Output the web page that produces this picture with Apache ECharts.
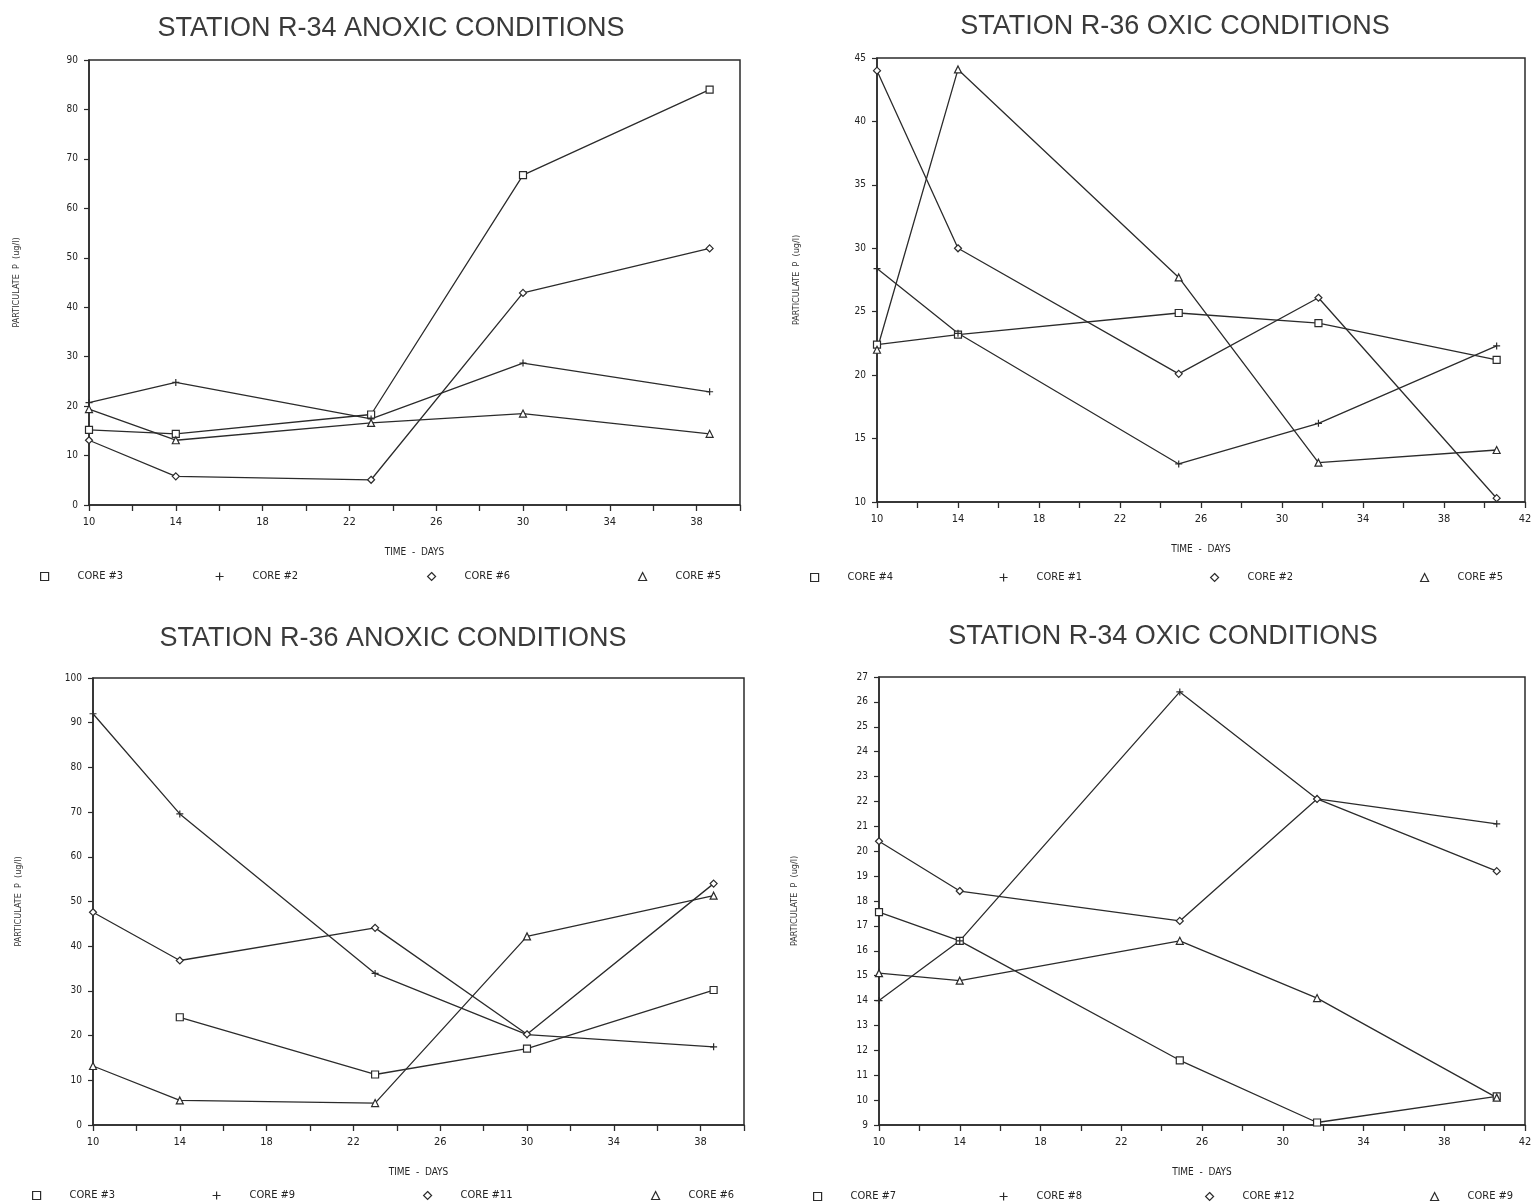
<!DOCTYPE html>
<html>
<head>
<meta charset="utf-8">
<script src="https://cdn.jsdelivr.net/npm/echarts@6/dist/echarts.min.js"></script>
<style>
html, body { margin: 0; padding: 0; background: #fff; }
#main { width: 1536px; height: 1202px; }
</style>
</head>
<body>
<div id="main"></div>
<script>
// STATION R-34 ANOXIC CONDITIONS
var r34AnoxDays = [10, 14, 23, 30, 38.6];
var r34AnoxCore3 = [15.2, 14.4, 18.3, 66.7, 84];
var r34AnoxCore2 = [20.7, 24.8, 17.4, 28.7, 22.9];
var r34AnoxCore6 = [13.1, 5.8, 5.1, 42.9, 51.9];
var r34AnoxCore5 = [19.4, 13.1, 16.6, 18.5, 14.4];

// STATION R-36 OXIC CONDITIONS
var r36OxDays = [10, 14, 24.9, 31.8, 40.6];
var r36OxCore4 = [22.4, 23.2, 24.9, 24.1, 21.2];
var r36OxCore1 = [28.4, 23.3, 13.0, 16.2, 22.3];
var r36OxCore2 = [44.0, 30.0, 20.1, 26.1, 10.3];
var r36OxCore5 = [22.0, 44.1, 27.7, 13.1, 14.1];

// STATION R-36 ANOXIC CONDITIONS (core #3 has no day-10 sample)
var r36AnoxDays = [10, 14, 23, 30, 38.6];
var r36AnoxCore3 = [null, 24.1, 11.3, 17.1, 30.2];
var r36AnoxCore9 = [92, 69.6, 33.9, 20.2, 17.5];
var r36AnoxCore11 = [47.6, 36.8, 44.1, 20.3, 54];
var r36AnoxCore6 = [13.2, 5.5, 4.9, 42.2, 51.3];

// STATION R-34 OXIC CONDITIONS
var r34OxDays = [10, 14, 24.9, 31.7, 40.6];
var r34OxCore7 = [17.55, 16.4, 11.6, 9.1, 10.15];
var r34OxCore8 = [14.0, 16.4, 26.4, 22.1, 21.1];
var r34OxCore12 = [20.4, 18.4, 17.2, 22.1, 19.2];
var r34OxCore9 = [15.1, 14.8, 16.4, 14.1, 10.1];

// x axis ticks / labels
var dayLabels40 = [10, 14, 18, 22, 26, 30, 34, 38];
var dayTicks40 = [10, 12, 14, 16, 18, 20, 22, 24, 26, 28, 30, 32, 34, 36, 38, 40];
var dayLabels42 = [10, 14, 18, 22, 26, 30, 34, 38, 42];
var dayTicks42 = [10, 12, 14, 16, 18, 20, 22, 24, 26, 28, 30, 32, 34, 36, 38, 40, 42];

var SQUARE = 'rect';
var PLUS = 'path://M5,0V10M0,5H10';
var DIAMOND = 'diamond';
var TRIANGLE = 'triangle';

var INK = '#2b2b2b';
var SMALL_FONT = "'Liberation Sans Narrow', 'DejaVu Sans Condensed', 'Liberation Sans', sans-serif";

var panels = [
    {
        title: 'STATION R-34 ANOXIC CONDITIONS',
        titleX: 386, titleY: 10,
        grid: { left: 89, top: 60, width: 651, height: 445 },
        yMin: 0, yMax: 90, yStep: 10, xMax: 40, yNameGap: 68,
        labels: dayLabels40, ticks: dayTicks40,
        days: r34AnoxDays,
        lines: [
            { name: 'CORE #3', values: r34AnoxCore3, symbol: SQUARE },
            { name: 'CORE #2', values: r34AnoxCore2, symbol: PLUS },
            { name: 'CORE #6', values: r34AnoxCore6, symbol: DIAMOND },
            { name: 'CORE #5', values: r34AnoxCore5, symbol: TRIANGLE }
        ],
        legendX: [39, 214, 426, 637], legendY: 566
    },
    {
        title: 'STATION R-36 OXIC CONDITIONS',
        titleX: 1170, titleY: 8,
        grid: { left: 877, top: 58, width: 648, height: 444 },
        yMin: 10, yMax: 45, yStep: 5, xMax: 42, yNameGap: 76,
        labels: dayLabels42, ticks: dayTicks42,
        days: r36OxDays,
        lines: [
            { name: 'CORE #4', values: r36OxCore4, symbol: SQUARE },
            { name: 'CORE #1', values: r36OxCore1, symbol: PLUS },
            { name: 'CORE #2', values: r36OxCore2, symbol: DIAMOND },
            { name: 'CORE #5', values: r36OxCore5, symbol: TRIANGLE }
        ],
        legendX: [809, 998, 1209, 1419], legendY: 567
    },
    {
        title: 'STATION R-36 ANOXIC CONDITIONS',
        titleX: 388, titleY: 620,
        grid: { left: 93, top: 678, width: 651, height: 447 },
        yMin: 0, yMax: 100, yStep: 10, xMax: 40, yNameGap: 70,
        labels: dayLabels40, ticks: dayTicks40,
        days: r36AnoxDays,
        lines: [
            { name: 'CORE #3', values: r36AnoxCore3, symbol: SQUARE },
            { name: 'CORE #9', values: r36AnoxCore9, symbol: PLUS },
            { name: 'CORE #11', values: r36AnoxCore11, symbol: DIAMOND },
            { name: 'CORE #6', values: r36AnoxCore6, symbol: TRIANGLE }
        ],
        legendX: [31, 211, 422, 650], legendY: 1185
    },
    {
        title: 'STATION R-34 OXIC CONDITIONS',
        titleX: 1158, titleY: 618,
        grid: { left: 879, top: 677, width: 646, height: 448 },
        yMin: 9, yMax: 27, yStep: 1, xMax: 42, yNameGap: 80,
        labels: dayLabels42, ticks: dayTicks42,
        days: r34OxDays,
        lines: [
            { name: 'CORE #7', values: r34OxCore7, symbol: SQUARE },
            { name: 'CORE #8', values: r34OxCore8, symbol: PLUS },
            { name: 'CORE #12', values: r34OxCore12, symbol: DIAMOND },
            { name: 'CORE #9', values: r34OxCore9, symbol: TRIANGLE }
        ],
        legendX: [812, 998, 1204, 1429], legendY: 1186
    }
];

var chart = echarts.init(document.getElementById('main'));

var titles = [], grids = [], xAxes = [], yAxes = [], series = [], legends = [];

panels.forEach(function (p, i) {
    titles.push({
        text: p.title,
        left: p.titleX,
        top: p.titleY,
        textAlign: 'center',
        textStyle: {
            fontFamily: "'Liberation Sans', Arial, sans-serif",
            fontSize: 27,
            fontWeight: 'normal',
            color: '#3a3a3a'
        }
    });
    grids.push({
        left: p.grid.left, top: p.grid.top,
        width: p.grid.width, height: p.grid.height,
        show: true, borderColor: INK, borderWidth: 1.5,
        backgroundColor: 'transparent'
    });
    xAxes.push({
        type: 'value',
        gridIndex: i,
        min: 10,
        max: p.xMax,
        name: 'TIME  -  DAYS',
        nameLocation: 'middle',
        nameGap: 42,
        nameTextStyle: { fontFamily: SMALL_FONT, fontSize: 10, color: '#222' },
        axisLine: { onZero: false, lineStyle: { color: INK, width: 1.5 } },
        axisTick: { show: true, customValues: p.ticks, length: 6, lineStyle: { color: INK, width: 1.3 } },
        axisLabel: { customValues: p.labels, margin: 12, fontFamily: SMALL_FONT, fontSize: 11, color: '#222' },
        splitLine: { show: false }
    });
    yAxes.push({
        type: 'value',
        gridIndex: i,
        min: p.yMin,
        max: p.yMax,
        interval: p.yStep,
        name: 'PARTICULATE  P  (ug/l)',
        nameLocation: 'middle',
        nameRotate: 90,
        nameGap: p.yNameGap,
        nameTextStyle: { fontFamily: SMALL_FONT, fontSize: 9, color: '#333' },
        axisLine: { show: true, lineStyle: { color: INK, width: 1.5 } },
        axisTick: { show: true, length: 5, lineStyle: { color: INK, width: 1.2 } },
        axisLabel: { margin: 11, fontFamily: SMALL_FONT, fontSize: 10, color: '#222' },
        splitLine: { show: false }
    });
    p.lines.forEach(function (ln, k) {
        var pts = [];
        p.days.forEach(function (d, j) {
            if (ln.values[j] !== null) pts.push([d, ln.values[j]]);
        });
        series.push({
            name: ln.name,
            type: 'line',
            xAxisIndex: i,
            yAxisIndex: i,
            data: pts,
            symbol: ln.symbol,
            symbolSize: 7,
            showAllSymbol: true,
            lineStyle: { color: INK, width: 1.3 },
            itemStyle: { color: '#fff', borderColor: INK, borderWidth: 1.2 },
            emphasis: { disabled: true },
            z: 3
        });
        legends.push({
            data: [{ name: ln.name, icon: ln.symbol }],
            left: p.legendX[k] - 4,
            top: p.legendY,
            itemWidth: 8,
            itemHeight: 8,
            selectedMode: false,
            itemStyle: { color: '#fff', borderColor: INK, borderWidth: 1.2 },
            lineStyle: { width: 0 },
            textStyle: {
                fontFamily: SMALL_FONT, fontSize: 11, color: '#222',
                padding: [0, 0, 0, 24]
            }
        });
    });
});

chart.setOption({
    backgroundColor: '#fff',
    animation: false,
    title: titles,
    grid: grids,
    xAxis: xAxes,
    yAxis: yAxes,
    legend: legends,
    series: series
});
</script>
</body>
</html>
